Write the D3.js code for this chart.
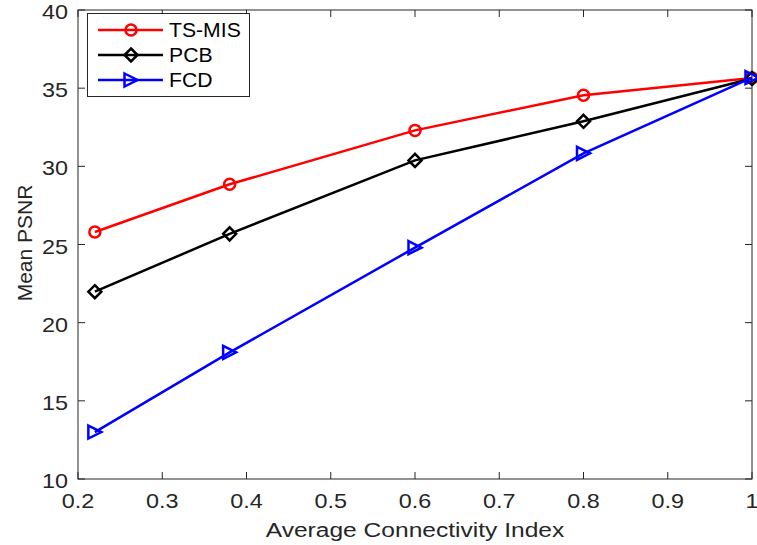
<!DOCTYPE html>
<html><head><meta charset="utf-8">
<script src="https://cdn.jsdelivr.net/npm/d3@7"></script>
<style>body{margin:0;background:#fff}svg{display:block}text{font-family:"Liberation Sans",Arial,sans-serif;fill:#262626}</style>
</head><body>
<script>
const xValues = [0.22, 0.38, 0.6, 0.8, 1.0];
const tsmis = [25.8, 28.85, 32.3, 34.55, 35.65];
const pcb = [21.98, 25.68, 30.38, 32.88, 35.62];
const fcd = [13.0, 18.1, 24.8, 30.83, 35.68];
const seriesNames = ["TS-MIS", "PCB", "FCD"];
const seriesColors = ["#ff0000", "#000000", "#0000ff"];
const seriesMarkers = ["circle", "diamond", "triangle"];
const xTicks = [0.2, 0.3, 0.4, 0.5, 0.6, 0.7, 0.8, 0.9, 1];
const yTicks = [10, 15, 20, 25, 30, 35, 40];
const xLabel = "Average Connectivity Index";
const yLabel = "Mean PSNR";

const W = 757, H = 545;
const L = 78, R = 752, T = 10, B = 479;
const svg = d3.select("body").append("svg").attr("width", W).attr("height", H);
const x = d3.scaleLinear().domain([0.2, 1]).range([L, R]);
const y = d3.scaleLinear().domain([10, 40]).range([B, T]);
const axisColor = "#262626";
const SX = 1.17;

function txt(g, tx, ty, s, size, anchor, sx) {
  return g.append("text").attr("transform", `translate(${tx},${ty}) scale(${sx},1)`)
    .attr("text-anchor", anchor).attr("font-size", size).text(s);
}

svg.append("rect").attr("x", L).attr("y", T).attr("width", R - L).attr("height", B - T)
  .attr("fill", "none").attr("stroke", axisColor).attr("stroke-width", 1);

const tl = 7;
const gx = svg.append("g");
xTicks.forEach(t => {
  const px = x(t);
  gx.append("line").attr("x1", px).attr("x2", px).attr("y1", B).attr("y2", B - tl).attr("stroke", axisColor);
  gx.append("line").attr("x1", px).attr("x2", px).attr("y1", T).attr("y2", T + tl).attr("stroke", axisColor);
  txt(gx, px, 508, String(t), 20, "middle", SX);
});
const gy = svg.append("g");
yTicks.forEach(t => {
  const py = y(t);
  gy.append("line").attr("x1", L).attr("x2", L + tl).attr("y1", py).attr("y2", py).attr("stroke", axisColor);
  gy.append("line").attr("x1", R).attr("x2", R - tl).attr("y1", py).attr("y2", py).attr("stroke", axisColor);
  txt(gy, 68, py + 9, String(t), 20, "end", SX);
});

txt(svg, 415, 537, xLabel, 21, "middle", SX);
svg.append("text").attr("transform", `translate(32,243) rotate(-90)`).attr("text-anchor", "middle").attr("font-size", 21).text(yLabel);

function marker(g, type, cx, cy, color) {
  if (type === "circle") {
    g.append("circle").attr("cx", cx).attr("cy", cy).attr("r", 5.5).attr("fill", "none").attr("stroke", color).attr("stroke-width", 2.5);
  } else if (type === "diamond") {
    const s = 6.5;
    g.append("path").attr("d", `M${cx},${cy - s}L${cx + s},${cy}L${cx},${cy + s}L${cx - s},${cy}Z`).attr("fill", "none").attr("stroke", color).attr("stroke-width", 2.5);
  } else {
    const s = 6.5;
    g.append("path").attr("d", `M${cx - s},${cy - s}L${cx + s},${cy}L${cx - s},${cy + s}Z`).attr("fill", "none").attr("stroke", color).attr("stroke-width", 2.5);
  }
}

const data = [tsmis, pcb, fcd];
const line = d3.line().x((d, i) => x(xValues[i])).y(d => y(d));
data.forEach((vals, si) => {
  const g = svg.append("g");
  g.append("path").attr("d", line(vals)).attr("fill", "none").attr("stroke", seriesColors[si]).attr("stroke-width", 2.5);
  vals.forEach((v, i) => marker(g, seriesMarkers[si], x(xValues[i]), y(v), seriesColors[si]));
});

const lg = svg.append("g");
lg.append("rect").attr("x", 87.5).attr("y", 13.5).attr("width", 162).attr("height", 83).attr("fill", "#fff").attr("stroke", axisColor).attr("stroke-width", 1);
seriesNames.forEach((n, i) => {
  const yy = 30 + i * 25;
  lg.append("line").attr("x1", 98).attr("x2", 163).attr("y1", yy).attr("y2", yy).attr("stroke", seriesColors[i]).attr("stroke-width", 2.5);
  marker(lg, seriesMarkers[i], 131, yy, seriesColors[i]);
  txt(lg, 169, yy + 7, n, 20, "start", 1.06).style("fill", "#000");
});
</script>
</body></html>
